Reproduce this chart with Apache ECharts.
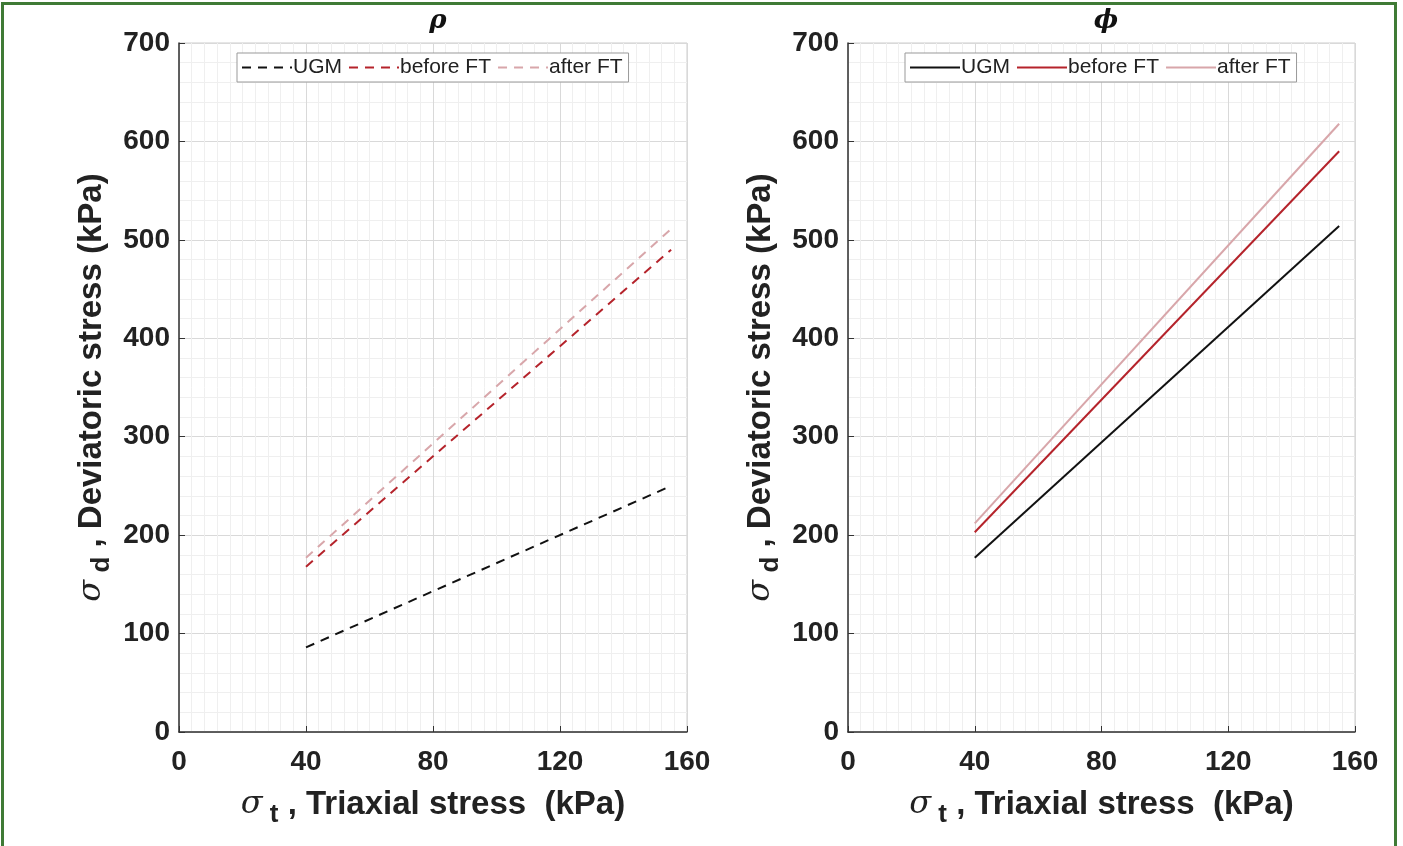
<!DOCTYPE html>
<html>
<head>
<meta charset="utf-8">
<script src="https://cdn.jsdelivr.net/npm/echarts@6/dist/echarts.min.js"></script>
<style>
html,body{margin:0;padding:0;background:#fff;overflow:hidden;}
#frame{position:absolute;left:1px;top:2px;width:1396px;height:860px;border:3px solid #3f7a35;box-sizing:border-box;}
#chart{position:absolute;left:0;top:0;width:1403px;height:846px;}
</style>
</head>
<body>
<div id="chart"></div>
<div id="frame"></div>
<script>
// Data
const xValues = [40, 155];
const seriesNames = ['UGM', 'before FT', 'after FT'];
const rhoUGM = [86, 250];
const rhoBefore = [168, 490];
const rhoAfter = [177, 511];
const phiUGM = [177, 514];
const phiBefore = [203, 590];
const phiAfter = [212, 618];
const xTicks = [0, 40, 80, 120, 160];
const yTicks = [0, 100, 200, 300, 400, 500, 600, 700];
const panelTitles = ['ρ', 'ϕ'];

const colors = ['#111111', '#b5232b', '#d8a6aa'];
const font = 'Liberation Sans, Arial, sans-serif';
const serif = 'DejaVu Serif, Liberation Serif, serif';

function pairs(ys){ return xValues.map((x,i)=>[x, ys[i]]); }

const nameRich = {
  g: {fontFamily: serif, fontStyle: 'italic', fontSize: 32, color: '#222'},
  s: {fontFamily: font, fontWeight: 'bold', fontSize: 33, color: '#222'},
  sub: {fontFamily: font, fontWeight: 'bold', fontSize: 26, color: '#222', padding: [20,0,0,0]}
};

function xAxis(gi){
  return {
    gridIndex: gi, type: 'value', min: xTicks[0], max: xTicks[xTicks.length-1], interval: 40,
    name: '{g|σ}{sub| t}{s| , Triaxial stress  (kPa)}',
    nameLocation: 'middle', nameGap: 50,
    nameTextStyle: {rich: nameRich},
    axisLine: {show: true, onZero: false, lineStyle: {color: '#333', width: 1.5}},
    axisTick: {show: true, inside: true, length: 6, lineStyle: {color: '#333'}},
    axisLabel: {fontFamily: font, fontWeight: 'bold', fontSize: 28, color: '#222', margin: 16},
    splitLine: {show: true, lineStyle: {color: '#d9d9d9', width: 1}},
    minorTick: {show: false, splitNumber: 10},
    minorSplitLine: {show: true, lineStyle: {color: '#efefef', width: 1}}
  };
}
function yAxis(gi){
  return {
    gridIndex: gi, type: 'value', min: yTicks[0], max: yTicks[yTicks.length-1], interval: 100,
    name: '{g|σ}{sub| d}{s| , Deviatoric stress (kPa)}',
    nameLocation: 'middle', nameGap: 64, nameRotate: 90,
    nameTextStyle: {rich: nameRich},
    axisLine: {show: true, onZero: false, lineStyle: {color: '#333', width: 1.5}},
    axisTick: {show: true, inside: true, length: 6, lineStyle: {color: '#333'}},
    axisLabel: {fontFamily: font, fontWeight: 'bold', fontSize: 28, color: '#222', margin: 9},
    splitLine: {show: true, lineStyle: {color: '#d9d9d9', width: 1}},
    minorTick: {show: false, splitNumber: 5},
    minorSplitLine: {show: true, lineStyle: {color: '#efefef', width: 1}}
  };
}
function line(name, ys, gi, color, dashed){
  return {
    name: name, type: 'line', xAxisIndex: gi, yAxisIndex: gi, data: pairs(ys),
    symbol: 'none', showSymbol: false, silent: true, animation: false,
    lineStyle: {color: color, width: 2, type: dashed ? [9, 7] : 'solid'},
    itemStyle: {color: color}
  };
}
function legend(left, dashed){
  return {
    show: true, left: left, top: 53, orient: 'horizontal',
    data: seriesNames.map((n, i) => ({
      name: n,
      lineStyle: {color: colors[i], width: 2, type: dashed ? [9, 7] : 'solid'}
    })),
    backgroundColor: '#fff', borderColor: '#999', borderWidth: 1,
    padding: [4, 6, 4, 4], itemGap: 6, itemWidth: 50, itemHeight: 10,
    itemStyle: {opacity: 0},
    textStyle: {fontFamily: font, fontSize: 21, color: '#222', padding: [0,0,0,-4]},
    selectedMode: false
  };
}

const chart = echarts.init(document.getElementById('chart'), null, {renderer: 'canvas'});
const option = {
  backgroundColor: '#fff',
  animation: false,
  title: [
    {text: panelTitles[0], left: 433, top: 3, textAlign: 'center',
     textStyle: {fontFamily: serif, fontStyle: 'italic', fontWeight: 'bold', fontSize: 26, color: '#111'}},
    {text: panelTitles[1], left: 1101, top: 3, textAlign: 'center',
     textStyle: {fontFamily: serif, fontStyle: 'italic', fontWeight: 'bold', fontSize: 26, color: '#111'}}
  ],
  grid: [
    {left: 179, right: 716, top: 43, bottom: 114, show: true, borderColor: '#cccccc', borderWidth: 1},
    {left: 848, right: 48, top: 43, bottom: 114, show: true, borderColor: '#cccccc', borderWidth: 1}
  ],
  xAxis: [xAxis(0), xAxis(1)],
  yAxis: [yAxis(0), yAxis(1)],
  legend: [legend(237, true), legend(905, false)],
  series: [
    line(seriesNames[0], rhoUGM, 0, colors[0], true),
    line(seriesNames[1], rhoBefore, 0, colors[1], true),
    line(seriesNames[2], rhoAfter, 0, colors[2], true),
    line(seriesNames[0], phiUGM, 1, colors[0], false),
    line(seriesNames[1], phiBefore, 1, colors[1], false),
    line(seriesNames[2], phiAfter, 1, colors[2], false)
  ]
};
chart.setOption(option);
</script>
</body>
</html>
